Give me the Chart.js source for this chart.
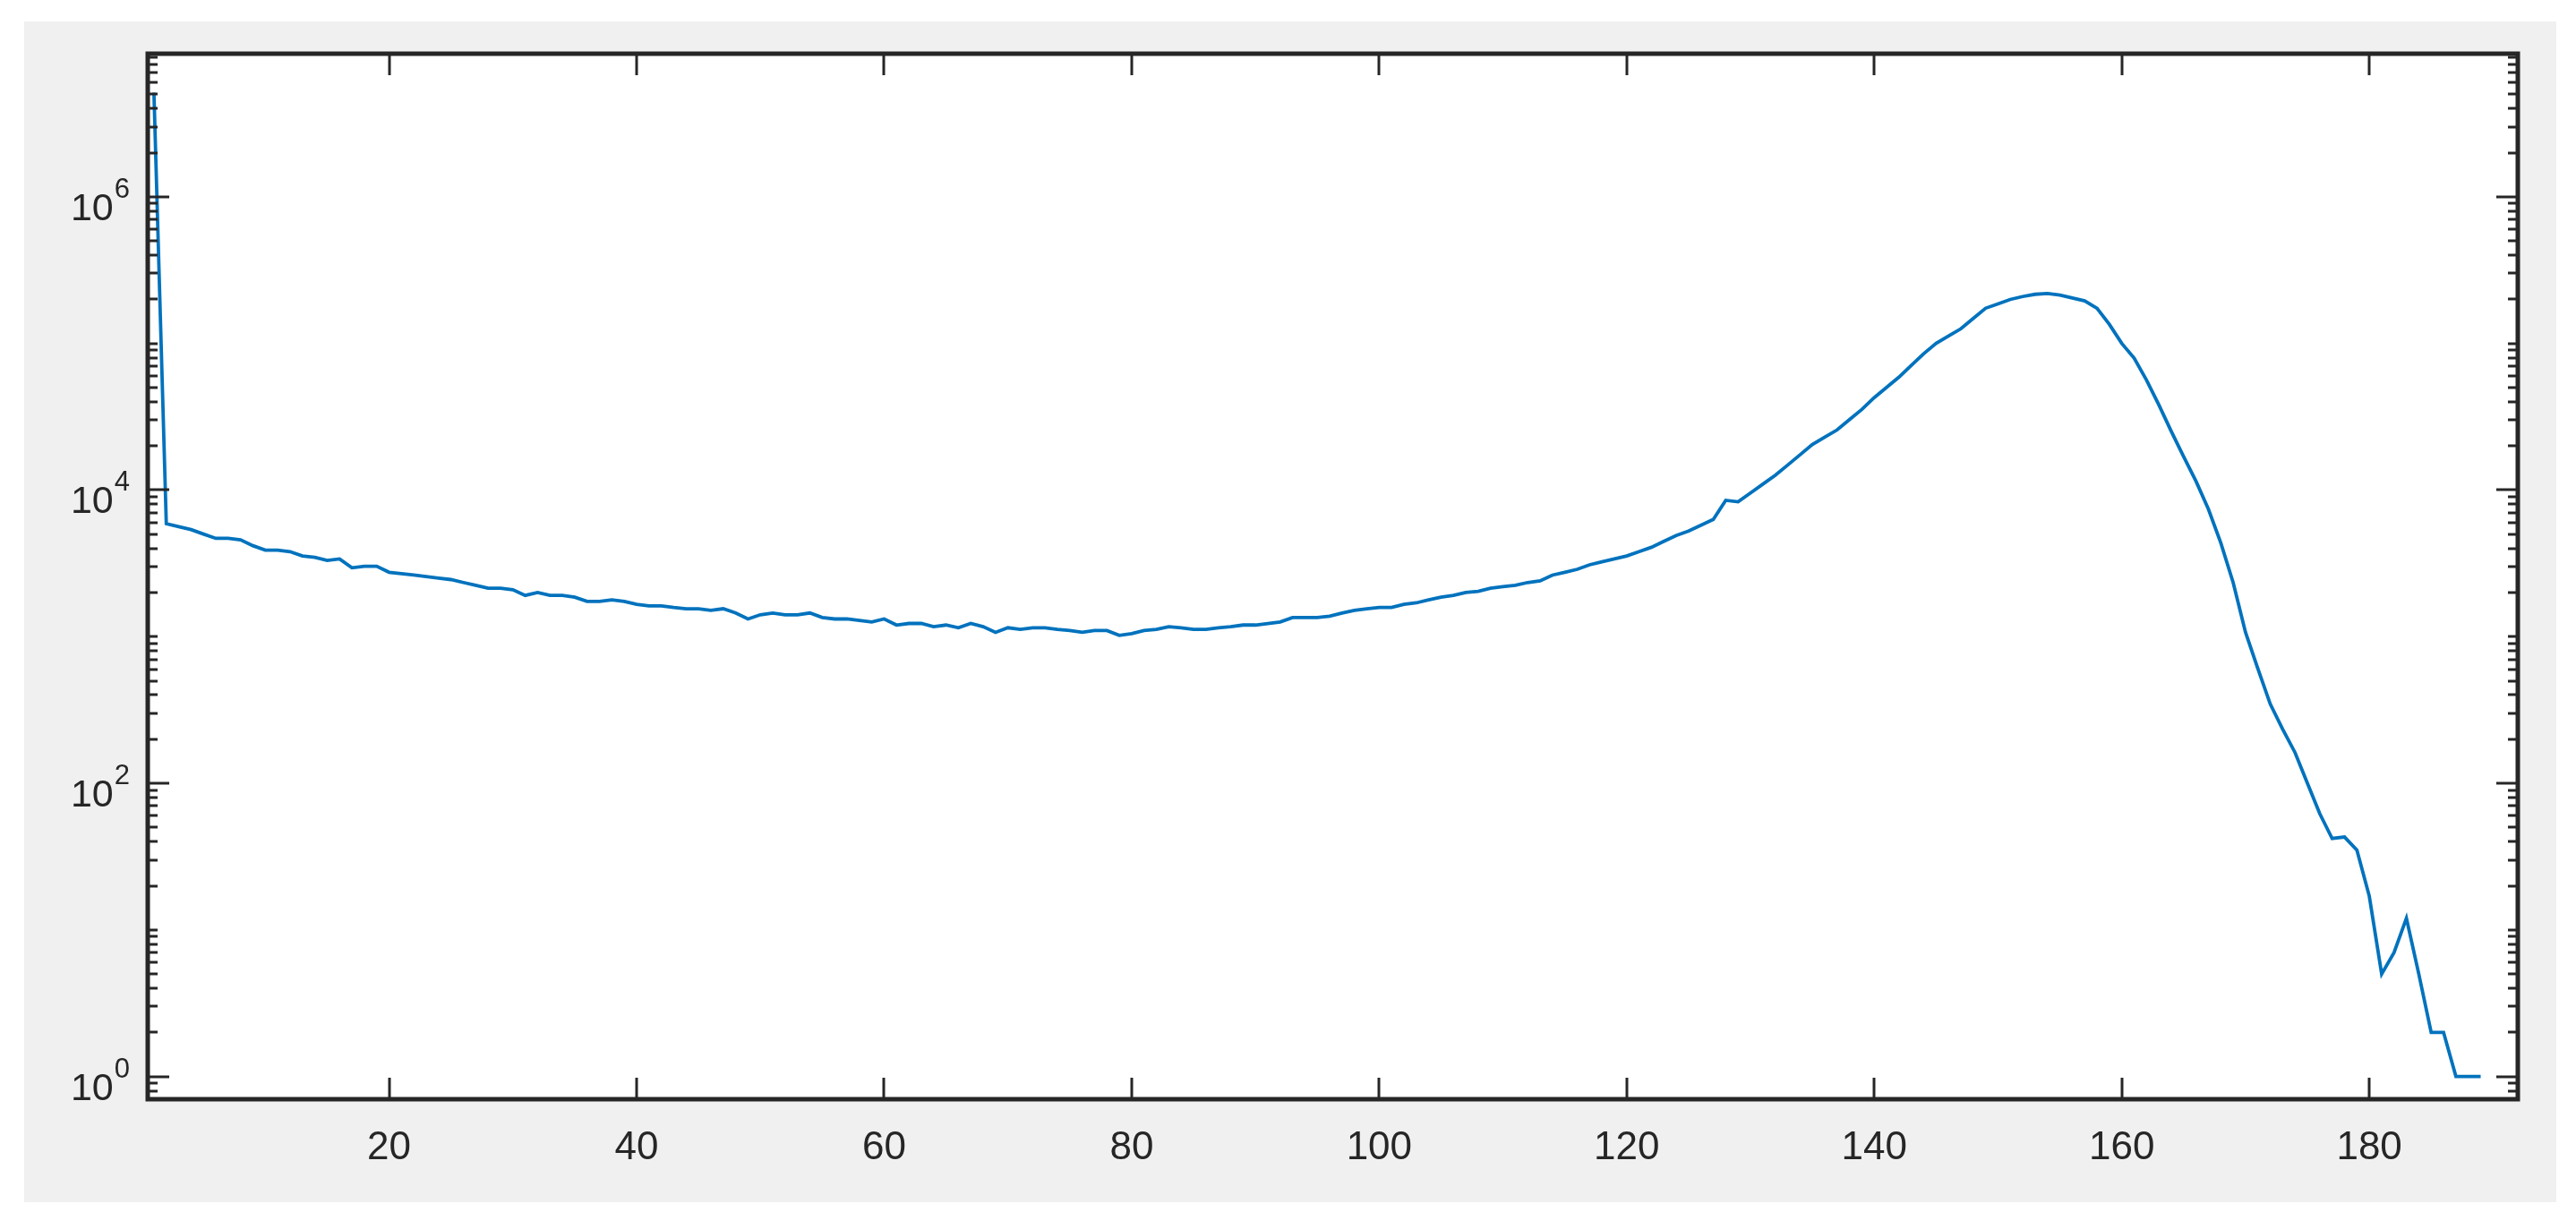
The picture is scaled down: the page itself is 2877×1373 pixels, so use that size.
<!DOCTYPE html>
<html>
<head>
<meta charset="utf-8">
<script src="https://cdn.jsdelivr.net/npm/chart.js@4.4.1/dist/chart.umd.min.js"></script>
<style>
  html, body { margin: 0; padding: 0; background: #ffffff; }
  #wrap { width: 2877px; height: 1373px; }
</style>
</head>
<body>
<div id="wrap"><canvas id="chart" width="2877" height="1373"></canvas></div>
<script>
// counts per bin (bins 1..189)
const counts = [
  5130000, 5890, 5620, 5370, 5010, 4680, 4680, 4570, 4170, 3890,
  3890, 3800, 3550, 3470, 3310, 3390, 2950, 3020, 3020, 2750,
  2690, 2630, 2570, 2510, 2450, 2340, 2240, 2140, 2140, 2090,
  1910, 2000, 1910, 1910, 1860, 1740, 1740, 1780, 1740, 1660,
  1620, 1620, 1580, 1550, 1550, 1510, 1550, 1450, 1320, 1410,
  1450, 1410, 1410, 1450, 1350, 1320, 1320, 1290, 1260, 1320,
  1200, 1230, 1230, 1170, 1200, 1150, 1230, 1170, 1070, 1150,
  1120, 1150, 1150, 1120, 1100, 1070, 1100, 1100, 1020, 1050,
  1100, 1120, 1170, 1150, 1120, 1120, 1150, 1170, 1200, 1200,
  1230, 1260, 1350, 1350, 1350, 1380, 1450, 1510, 1550, 1580,
  1580, 1660, 1700, 1780, 1860, 1910, 2000, 2040, 2140, 2190,
  2240, 2340, 2400, 2630, 2750, 2880, 3090, 3240, 3390, 3550,
  3800, 4070, 4470, 4900, 5250, 5750, 6310, 8510, 8320, 9550,
  10960, 12590, 14790, 17380, 20420, 22910, 25700, 30200, 35480, 42660,
  50120, 58880, 70790, 85110, 100000, 112200, 125900, 147900, 173800, 186200,
  199500, 208900, 216300, 218800, 213800, 204200, 195000, 173800, 134900, 100000,
  79430, 56230, 38020, 25120, 16900, 11480, 7410, 4370, 2340, 1070,
  603, 347, 234, 162, 100, 62, 42, 43, 35, 17,
  5, 7, 12, 5, 2, 2, 1, 1, 1
];

const xTicks = [20, 40, 60, 80, 100, 120, 140, 160, 180];
const yTicks = [1, 100, 10000, 1000000];
const xRange = [0.5, 192];
const yRange = [0.714, 9.46e6];

const axisColor = '#262626';
const fontFamily = '"Liberation Sans", Arial, Helvetica, sans-serif';

const points = counts.map((c, i) => ({ x: i + 1, y: c }));

// grey figure panel, white axes, boxed axes with inward ticks (matlab look)
const matlabAxes = {
  id: 'matlabAxes',
  beforeDraw(chart) {
    const ctx = chart.ctx;
    const a = chart.chartArea;
    ctx.save();
    ctx.fillStyle = '#ffffff';
    ctx.fillRect(0, 0, chart.width, chart.height);
    ctx.fillStyle = '#f0f0f0';
    ctx.fillRect(27, 24, 2828, 1319);
    ctx.fillStyle = '#ffffff';
    ctx.fillRect(a.left, a.top, a.right - a.left, a.bottom - a.top);
    ctx.restore();
  },
  afterDatasetsDraw(chart) {
    const ctx = chart.ctx;
    const a = chart.chartArea;
    const xs = chart.scales.x;
    const ys = chart.scales.y;

    function seg(x1, y1, x2, y2) {
      ctx.beginPath();
      ctx.moveTo(x1, y1);
      ctx.lineTo(x2, y2);
      ctx.stroke();
    }

    ctx.save();
    ctx.strokeStyle = axisColor;
    ctx.lineWidth = 3;

    xTicks.forEach((v) => {
      const px = Math.round(xs.getPixelForValue(v));
      seg(px, a.bottom, px, a.bottom - 24);
      seg(px, a.top, px, a.top + 24);
    });

    for (let d = -1; d <= 7; d++) {
      for (let k = 1; k <= 9; k++) {
        const v = k * Math.pow(10, d);
        if (v < ys.min || v > ys.max) continue;
        const len = yTicks.includes(v) ? 24 : 11;
        const py = Math.round(ys.getPixelForValue(v));
        seg(a.left, py, a.left + len, py);
        seg(a.right, py, a.right - len, py);
      }
    }

    ctx.lineWidth = 5;
    ctx.strokeRect(a.left, a.top, a.right - a.left, a.bottom - a.top);

    // 10^n labels
    ctx.fillStyle = axisColor;
    ctx.textAlign = 'right';
    ctx.textBaseline = 'alphabetic';
    yTicks.forEach((v) => {
      const py = ys.getPixelForValue(v);
      const exp = String(Math.round(Math.log10(v)));
      ctx.font = '31px ' + fontFamily;
      ctx.fillText(exp, 145, py + 1);
      const w = ctx.measureText(exp).width;
      ctx.font = '43px ' + fontFamily;
      ctx.fillText('10', 145 - w - 1, py + 26);
    });
    ctx.restore();
  }
};

new Chart(document.getElementById('chart'), {
  type: 'line',
  data: {
    datasets: [{
      data: points,
      borderColor: '#0072BD',
      borderWidth: 3.8,
      pointRadius: 0,
      fill: false,
      tension: 0
    }]
  },
  options: {
    responsive: false,
    animation: false,
    devicePixelRatio: 1,
    layout: { padding: { top: 60, right: 65, left: 0, bottom: 0 } },
    plugins: { legend: { display: false }, tooltip: { enabled: false } },
    scales: {
      x: {
        type: 'linear',
        min: xRange[0],
        max: xRange[1],
        afterBuildTicks: (scale) => { scale.ticks = xTicks.map((v) => ({ value: v })); },
        afterFit: (scale) => { scale.height = 145; },
        grid: { display: false, drawTicks: false },
        border: { display: false },
        ticks: {
          color: axisColor,
          padding: 28,
          maxRotation: 0,
          autoSkip: false,
          font: { family: fontFamily, size: 44 }
        }
      },
      y: {
        type: 'logarithmic',
        min: yRange[0],
        max: yRange[1],
        afterBuildTicks: (scale) => { scale.ticks = yTicks.map((v) => ({ value: v })); },
        afterFit: (scale) => { scale.width = 165; },
        grid: { display: false, drawTicks: false },
        border: { display: false },
        ticks: { display: false }
      }
    }
  },
  plugins: [matlabAxes]
});
</script>
</body>
</html>
